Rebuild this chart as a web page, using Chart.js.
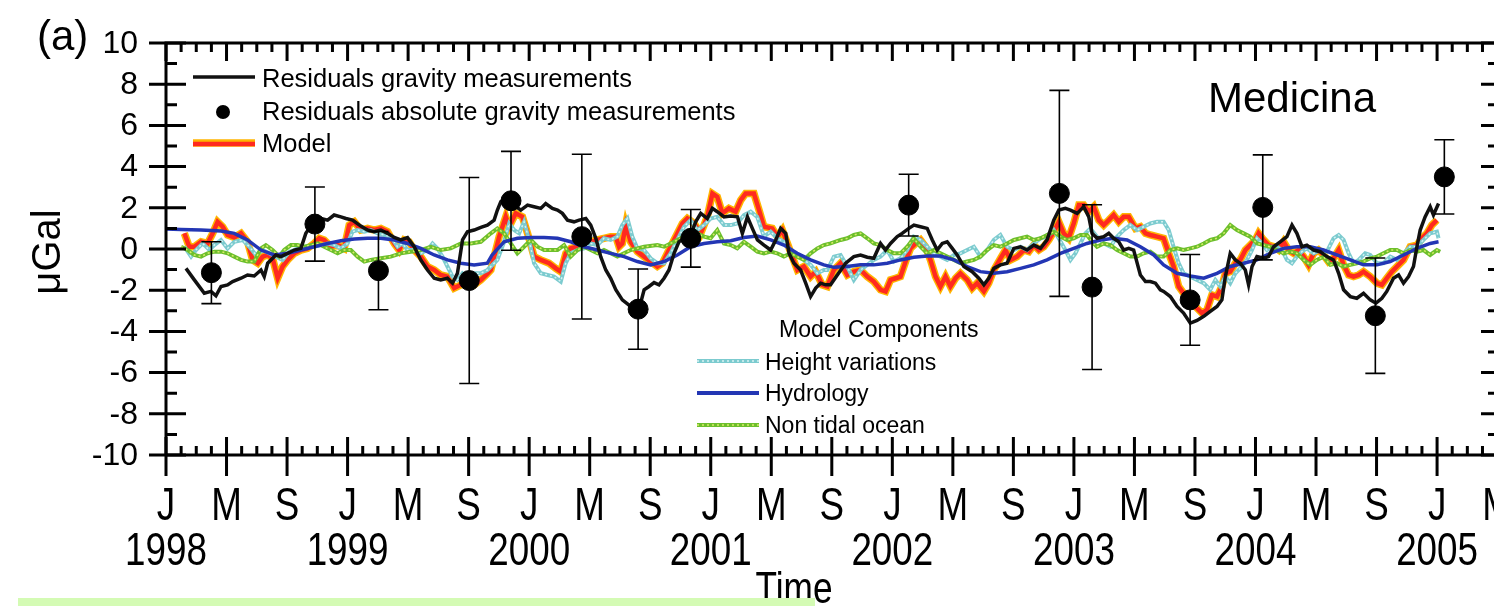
<!DOCTYPE html>
<html>
<head>
<meta charset="utf-8">
<script src="https://cdn.jsdelivr.net/npm/chart.js@4.4.1/dist/chart.umd.min.js"></script>
<style>
html, body { margin: 0; padding: 0; overflow: hidden; background: #fff; }
#wrap { position: relative; width: 1494px; height: 606px; overflow: hidden; }
#wrap canvas { position: absolute; left: 0; top: 0; }
#band { position: absolute; left: 18px; top: 598px; width: 797px; height: 8px; background: #d4fbb4; }
</style>
</head>
<body>
<div id="wrap">
  <canvas id="chart" width="1510" height="606"></canvas>
  <div id="band"></div>
</div>
<script>
// time in decimal years, values in microGal
const gravityResiduals = [
  [1998.110,-0.94],[1998.156,-1.50],[1998.211,-2.15],[1998.248,-2.06],[1998.275,-2.27],[1998.303,-1.82],[1998.339,-1.74],[1998.367,-1.58],[1998.413,-1.42],[1998.449,-1.26],[1998.486,-1.31],[1998.523,-1.02],[1998.541,-1.34],[1998.560,-0.69],[1998.605,-0.29],[1998.633,-0.37],[1998.670,-0.21],[1998.706,-0.05],[1998.743,0.03],[1998.770,0.76],[1998.789,1.00],[1998.820,1.24],[1998.853,1.48],[1998.890,1.40],[1998.926,1.65],[1998.963,1.56],[1998.991,1.48],[1999.027,1.40],[1999.073,1.11],[1999.110,0.92],[1999.147,0.84],[1999.183,0.92],[1999.220,0.76],[1999.257,0.56],[1999.293,0.44],[1999.330,0.55],[1999.367,0.11],[1999.403,-0.53],[1999.440,-1.02],[1999.477,-1.42],[1999.513,-1.50],[1999.550,-1.42],[1999.578,-1.66],[1999.605,-1.18],[1999.633,0.44],[1999.660,0.84],[1999.697,0.92],[1999.734,1.05],[1999.770,1.16],[1999.807,1.40],[1999.825,1.89],[1999.844,2.30],[1999.881,2.53],[1999.917,2.13],[1999.954,1.89],[1999.991,2.13],[2000.027,2.05],[2000.064,1.97],[2000.091,2.21],[2000.128,1.97],[2000.156,1.89],[2000.183,1.73],[2000.211,1.40],[2000.247,1.32],[2000.275,1.40],[2000.312,1.48],[2000.339,1.16],[2000.367,0.52],[2000.394,-0.37],[2000.422,-1.02],[2000.449,-1.42],[2000.477,-1.98],[2000.513,-2.47],[2000.559,-2.79],[2000.605,-2.92],[2000.633,-1.98],[2000.660,-1.82],[2000.688,-1.63],[2000.715,-1.74],[2000.743,-1.42],[2000.770,-1.02],[2000.798,-0.21],[2000.825,0.35],[2000.853,0.52],[2000.886,0.60],[2000.917,1.32],[2000.945,1.73],[2000.981,1.48],[2001.009,1.97],[2001.036,1.81],[2001.073,1.56],[2001.110,1.60],[2001.147,1.56],[2001.174,0.76],[2001.202,1.56],[2001.229,1.00],[2001.257,0.44],[2001.293,0.19],[2001.330,-0.05],[2001.358,0.44],[2001.385,1.00],[2001.413,0.76],[2001.431,-0.21],[2001.458,-0.69],[2001.495,-1.02],[2001.523,-1.66],[2001.550,-2.31],[2001.578,-1.90],[2001.605,-1.66],[2001.633,-1.74],[2001.660,-1.74],[2001.697,-1.26],[2001.743,-0.69],[2001.788,-0.37],[2001.825,-0.29],[2001.862,-0.40],[2001.898,-0.45],[2001.935,0.27],[2001.962,-0.05],[2001.990,0.27],[2002.027,0.60],[2002.054,0.76],[2002.091,1.00],[2002.119,1.16],[2002.155,1.08],[2002.192,1.00],[2002.220,0.44],[2002.247,-0.05],[2002.275,0.27],[2002.302,0.35],[2002.330,0.03],[2002.357,-0.29],[2002.394,-0.85],[2002.440,-1.10],[2002.476,-1.42],[2002.504,-1.74],[2002.531,-1.42],[2002.559,-0.94],[2002.596,-0.77],[2002.632,-0.69],[2002.669,0.03],[2002.706,0.11],[2002.742,-0.05],[2002.779,0.19],[2002.816,0.03],[2002.852,0.44],[2002.889,1.40],[2002.917,1.89],[2002.953,1.97],[2002.981,1.89],[2003.018,1.73],[2003.054,2.05],[2003.082,1.56],[2003.100,0.76],[2003.128,0.52],[2003.164,0.60],[2003.192,0.76],[2003.219,0.52],[2003.247,0.35],[2003.274,-0.05],[2003.302,0.03],[2003.329,-0.05],[2003.366,-1.26],[2003.394,-1.58],[2003.421,-1.58],[2003.449,-1.66],[2003.476,-1.98],[2003.494,-2.06],[2003.531,-2.31],[2003.568,-2.79],[2003.604,-3.11],[2003.641,-3.60],[2003.678,-3.47],[2003.715,-3.27],[2003.751,-3.03],[2003.788,-2.79],[2003.815,-2.47],[2003.834,-1.34],[2003.861,-0.21],[2003.889,-0.53],[2003.916,-0.69],[2003.944,-1.02],[2003.962,-1.74],[2003.981,-0.85],[2004.008,-0.37],[2004.045,-0.45],[2004.072,-0.37],[2004.100,0.11],[2004.136,0.35],[2004.173,0.60],[2004.201,1.16],[2004.228,0.76],[2004.256,0.11],[2004.283,0.19],[2004.320,-0.05],[2004.357,-0.13],[2004.393,-0.37],[2004.430,-0.53],[2004.458,-1.18],[2004.485,-1.98],[2004.522,-2.31],[2004.558,-2.39],[2004.595,-2.15],[2004.632,-2.47],[2004.663,-2.63],[2004.696,-2.39],[2004.723,-2.06],[2004.760,-1.42],[2004.788,-1.26],[2004.815,-1.66],[2004.843,-1.34],[2004.870,-0.85],[2004.889,0.11],[2004.907,0.92],[2004.934,1.56],[2004.962,2.05],[2004.980,1.65],[2005.008,2.21]
];

const model = [
  [1998.101,0.76],[1998.128,0.11],[1998.156,0.11],[1998.193,0.35],[1998.229,0.27],[1998.257,0.76],[1998.284,1.32],[1998.312,1.08],[1998.339,0.68],[1998.376,0.56],[1998.413,0.76],[1998.449,0.35],[1998.477,-0.53],[1998.505,-0.69],[1998.532,-0.37],[1998.560,-0.29],[1998.587,-0.45],[1998.615,-1.42],[1998.642,-0.85],[1998.670,-0.53],[1998.706,-0.21],[1998.743,-0.05],[1998.780,0.03],[1998.816,0.27],[1998.844,0.52],[1998.871,0.44],[1998.908,0.11],[1998.945,0.19],[1998.981,0.03],[1999.009,1.16],[1999.037,1.32],[1999.073,0.92],[1999.110,1.00],[1999.147,0.92],[1999.183,1.00],[1999.220,0.84],[1999.257,0.27],[1999.284,-0.05],[1999.312,0.44],[1999.339,0.35],[1999.367,-0.05],[1999.403,-0.37],[1999.440,-0.85],[1999.477,-1.02],[1999.513,-1.26],[1999.550,-1.34],[1999.587,-1.90],[1999.624,-1.74],[1999.660,-1.58],[1999.697,-1.74],[1999.734,-1.50],[1999.770,-1.20],[1999.789,-1.02],[1999.835,0.60],[1999.871,1.56],[1999.890,1.08],[1999.926,1.73],[1999.963,1.56],[1999.991,0.76],[2000.027,-0.37],[2000.064,-0.53],[2000.110,-0.69],[2000.147,-0.94],[2000.174,-1.10],[2000.202,-0.21],[2000.229,0.03],[2000.266,0.11],[2000.302,0.19],[2000.339,0.35],[2000.376,0.44],[2000.412,0.52],[2000.449,0.60],[2000.477,0.60],[2000.495,0.11],[2000.513,0.27],[2000.532,1.16],[2000.559,0.35],[2000.596,-0.13],[2000.633,-0.37],[2000.669,-0.61],[2000.706,-0.85],[2000.734,-0.69],[2000.770,-0.05],[2000.807,0.60],[2000.844,1.24],[2000.871,1.48],[2000.908,1.24],[2000.945,0.76],[2000.981,1.56],[2001.009,2.69],[2001.036,2.53],[2001.064,1.73],[2001.100,1.97],[2001.137,1.81],[2001.165,2.37],[2001.192,2.69],[2001.238,2.69],[2001.266,1.89],[2001.293,1.08],[2001.339,1.00],[2001.367,0.60],[2001.394,0.92],[2001.422,0.27],[2001.449,-0.37],[2001.477,-1.02],[2001.513,-0.85],[2001.550,-1.34],[2001.578,-1.10],[2001.614,-1.74],[2001.642,-1.82],[2001.678,-1.02],[2001.715,-0.69],[2001.752,-1.26],[2001.788,-1.10],[2001.825,-1.02],[2001.862,-1.34],[2001.898,-1.58],[2001.935,-1.98],[2001.963,-2.06],[2001.990,-1.50],[2002.018,-1.42],[2002.045,-1.34],[2002.073,-0.61],[2002.100,0.03],[2002.128,0.27],[2002.155,0.44],[2002.183,0.11],[2002.210,-0.53],[2002.238,-1.34],[2002.265,-1.82],[2002.293,-1.34],[2002.320,-1.82],[2002.348,-1.42],[2002.375,-1.18],[2002.412,-1.50],[2002.440,-1.90],[2002.467,-1.66],[2002.504,-2.06],[2002.531,-1.66],[2002.559,-1.02],[2002.596,-0.45],[2002.623,-0.05],[2002.651,-0.53],[2002.687,-0.37],[2002.724,-0.05],[2002.752,-0.13],[2002.779,0.19],[2002.807,-0.05],[2002.834,0.11],[2002.862,0.44],[2002.889,0.84],[2002.917,1.32],[2002.944,0.76],[2002.971,0.52],[2002.999,1.24],[2003.027,2.13],[2003.054,2.13],[2003.082,1.81],[2003.109,2.05],[2003.137,1.40],[2003.164,1.16],[2003.192,1.40],[2003.219,1.65],[2003.247,1.32],[2003.274,1.56],[2003.302,1.56],[2003.339,1.00],[2003.366,1.08],[2003.394,0.76],[2003.421,0.68],[2003.458,0.60],[2003.494,0.52],[2003.522,-0.21],[2003.549,-0.85],[2003.577,-1.82],[2003.604,-2.15],[2003.632,-2.31],[2003.669,-2.79],[2003.705,-3.11],[2003.733,-2.95],[2003.760,-2.23],[2003.788,-2.31],[2003.815,-1.82],[2003.834,-1.18],[2003.861,-1.10],[2003.889,-0.69],[2003.916,-0.53],[2003.944,-0.05],[2003.971,0.19],[2003.999,0.44],[2004.017,0.76],[2004.045,0.44],[2004.072,0.19],[2004.100,0.11],[2004.127,-0.05],[2004.155,0.35],[2004.182,-0.05],[2004.210,-0.21],[2004.237,-0.05],[2004.265,-0.37],[2004.292,-0.77],[2004.320,-0.21],[2004.347,-0.05],[2004.375,-0.29],[2004.402,-0.61],[2004.430,-0.45],[2004.458,-0.05],[2004.485,-0.77],[2004.513,-1.26],[2004.540,-1.34],[2004.568,-1.26],[2004.595,-1.10],[2004.632,-1.34],[2004.669,-1.66],[2004.696,-1.74],[2004.723,-1.42],[2004.751,-1.10],[2004.779,-0.85],[2004.815,-0.53],[2004.852,0.11],[2004.889,0.19],[2004.916,0.52],[2004.944,0.76],[2004.971,1.16],[2004.999,1.40]
];

const heightVariations = [
  [1998.101,0.11],[1998.138,-0.37],[1998.165,-0.05],[1998.202,0.27],[1998.239,-0.05],[1998.266,0.19],[1998.303,0.44],[1998.339,0.03],[1998.376,0.35],[1998.422,0.44],[1998.459,0.11],[1998.495,-0.29],[1998.532,-0.05],[1998.569,-0.21],[1998.605,-0.37],[1998.642,-0.53],[1998.679,-0.13],[1998.706,-0.05],[1998.743,0.11],[1998.816,0.11],[1998.853,0.19],[1998.890,0.27],[1998.926,0.19],[1998.963,0.03],[1999.000,0.27],[1999.027,0.84],[1999.055,0.92],[1999.092,0.84],[1999.128,0.92],[1999.165,0.76],[1999.202,0.68],[1999.238,0.60],[1999.275,0.11],[1999.302,0.27],[1999.330,-0.05],[1999.367,-0.05],[1999.403,-0.21],[1999.440,-0.05],[1999.468,0.27],[1999.495,0.03],[1999.523,-0.37],[1999.550,-0.85],[1999.578,-1.34],[1999.605,-1.50],[1999.633,-1.18],[1999.660,-1.34],[1999.697,-1.18],[1999.734,-1.18],[1999.770,-1.02],[1999.789,-0.85],[1999.825,-0.53],[1999.862,0.35],[1999.890,1.24],[1999.917,0.92],[1999.945,0.76],[1999.972,1.32],[2000.000,0.44],[2000.027,-0.69],[2000.064,-1.18],[2000.101,-1.26],[2000.137,-1.34],[2000.174,-1.58],[2000.201,-0.69],[2000.229,-0.21],[2000.266,-0.05],[2000.302,0.03],[2000.339,0.27],[2000.376,0.19],[2000.412,0.52],[2000.449,0.44],[2000.486,0.60],[2000.513,1.16],[2000.541,1.48],[2000.568,0.60],[2000.596,0.03],[2000.633,-0.05],[2000.669,-0.45],[2000.706,-0.69],[2000.743,-0.69],[2000.779,-0.21],[2000.816,0.44],[2000.853,1.08],[2000.889,1.40],[2000.926,0.92],[2000.963,1.16],[2000.999,1.48],[2001.036,1.56],[2001.073,1.16],[2001.110,1.16],[2001.146,1.24],[2001.183,1.65],[2001.220,1.81],[2001.256,1.56],[2001.293,0.60],[2001.330,0.84],[2001.366,0.52],[2001.403,0.35],[2001.440,-0.05],[2001.476,-0.29],[2001.513,-0.53],[2001.550,-0.77],[2001.587,-1.18],[2001.623,-1.02],[2001.642,-1.02],[2001.678,-0.37],[2001.715,-0.29],[2001.752,-0.85],[2001.788,-1.50],[2001.825,-1.02],[2001.862,-0.77],[2001.898,-0.53],[2001.935,-0.37],[2001.972,-0.05],[2002.008,-0.61],[2002.045,-0.45],[2002.082,-0.05],[2002.118,0.60],[2002.155,0.44],[2002.192,0.11],[2002.229,-0.21],[2002.265,-0.37],[2002.302,-0.53],[2002.339,-0.29],[2002.375,-0.21],[2002.412,-0.05],[2002.449,0.11],[2002.485,-0.37],[2002.522,-0.05],[2002.559,0.44],[2002.595,0.68],[2002.632,0.11],[2002.669,-0.05],[2002.706,0.11],[2002.742,-0.05],[2002.779,0.27],[2002.816,0.52],[2002.852,0.60],[2002.889,0.92],[2002.916,0.52],[2002.953,-0.05],[2002.981,-0.53],[2003.008,-0.21],[2003.036,0.27],[2003.063,0.76],[2003.091,1.00],[2003.127,0.60],[2003.164,0.27],[2003.201,0.11],[2003.238,0.60],[2003.274,0.92],[2003.311,1.16],[2003.348,0.92],[2003.384,1.08],[2003.421,1.24],[2003.458,1.32],[2003.494,1.32],[2003.522,0.92],[2003.549,0.11],[2003.577,-0.69],[2003.604,-1.18],[2003.641,-1.34],[2003.678,-1.50],[2003.715,-1.66],[2003.751,-1.98],[2003.779,-1.50],[2003.806,-1.82],[2003.834,-1.34],[2003.861,-1.66],[2003.889,-1.18],[2003.916,-0.94],[2003.953,-0.53],[2003.981,-0.05],[2004.008,0.52],[2004.036,0.27],[2004.063,-0.05],[2004.090,0.11],[2004.118,0.11],[2004.146,-0.05],[2004.173,-0.53],[2004.201,-0.69],[2004.228,-0.37],[2004.256,-0.13],[2004.283,0.03],[2004.320,-0.21],[2004.357,-0.05],[2004.393,-0.13],[2004.430,0.52],[2004.458,0.68],[2004.485,0.44],[2004.513,-0.21],[2004.540,-0.69],[2004.568,-0.53],[2004.604,-0.21],[2004.632,-0.29],[2004.669,-0.69],[2004.705,-0.69],[2004.742,-0.37],[2004.779,-0.53],[2004.815,-0.21],[2004.852,0.11],[2004.889,0.11],[2004.925,0.44],[2004.962,0.76],[2004.999,0.84],[2005.008,0.52]
];

const hydrology = [
  [1998.000,0.97],[1998.083,0.95],[1998.193,0.92],[1998.303,0.87],[1998.376,0.76],[1998.449,0.44],[1998.523,-0.05],[1998.596,-0.29],[1998.670,-0.21],[1998.743,-0.05],[1998.816,0.11],[1998.890,0.27],[1998.963,0.40],[1999.037,0.48],[1999.110,0.52],[1999.183,0.52],[1999.257,0.44],[1999.330,0.27],[1999.403,0.03],[1999.477,-0.29],[1999.550,-0.53],[1999.624,-0.69],[1999.697,-0.77],[1999.770,-0.69],[1999.795,-0.30],[1999.862,0.35],[1999.935,0.52],[2000.009,0.56],[2000.082,0.56],[2000.156,0.52],[2000.229,0.35],[2000.302,0.11],[2000.376,-0.05],[2000.449,-0.21],[2000.523,-0.37],[2000.596,-0.61],[2000.669,-0.77],[2000.743,-0.61],[2000.816,-0.29],[2000.889,0.11],[2000.963,0.27],[2001.036,0.35],[2001.110,0.40],[2001.183,0.56],[2001.256,0.63],[2001.330,0.44],[2001.403,0.19],[2001.476,-0.21],[2001.550,-0.53],[2001.623,-0.77],[2001.678,-0.89],[2001.752,-0.85],[2001.825,-0.77],[2001.898,-0.77],[2001.972,-0.69],[2002.045,-0.53],[2002.118,-0.40],[2002.192,-0.34],[2002.265,-0.34],[2002.339,-0.53],[2002.412,-0.85],[2002.485,-1.10],[2002.559,-1.18],[2002.632,-1.10],[2002.706,-0.94],[2002.779,-0.77],[2002.852,-0.53],[2002.926,-0.21],[2002.999,0.03],[2003.072,0.27],[2003.146,0.44],[2003.219,0.52],[2003.293,0.44],[2003.366,0.11],[2003.440,-0.29],[2003.494,-0.77],[2003.568,-1.18],[2003.641,-1.31],[2003.715,-1.42],[2003.788,-1.18],[2003.861,-0.85],[2003.935,-0.69],[2004.008,-0.53],[2004.081,-0.21],[2004.155,0.03],[2004.228,0.11],[2004.302,0.11],[2004.375,-0.05],[2004.448,-0.29],[2004.522,-0.53],[2004.595,-0.77],[2004.669,-0.77],[2004.742,-0.61],[2004.815,-0.29],[2004.889,0.03],[2004.962,0.27],[2005.008,0.35]
];

const nonTidalOcean = [
  [1998.083,0.11],[1998.119,-0.05],[1998.156,-0.29],[1998.193,-0.37],[1998.229,-0.21],[1998.266,-0.13],[1998.303,-0.13],[1998.339,-0.21],[1998.376,-0.37],[1998.413,-0.53],[1998.449,-0.61],[1998.486,-0.61],[1998.523,0.03],[1998.550,0.19],[1998.587,-0.05],[1998.624,-0.37],[1998.651,-0.05],[1998.688,0.19],[1998.724,0.19],[1998.761,0.11],[1998.798,0.19],[1998.835,0.27],[1998.871,0.11],[1998.908,-0.05],[1998.945,-0.21],[1998.981,-0.05],[1999.018,-0.05],[1999.055,-0.37],[1999.092,-0.61],[1999.128,-0.53],[1999.183,-0.45],[1999.238,-0.37],[1999.293,-0.21],[1999.348,-0.13],[1999.403,-0.05],[1999.458,0.11],[1999.513,-0.05],[1999.568,0.03],[1999.624,0.27],[1999.679,0.27],[1999.734,0.35],[1999.789,0.76],[1999.825,1.00],[1999.862,0.76],[1999.899,0.27],[1999.935,-0.21],[1999.972,0.11],[2000.009,0.44],[2000.046,0.11],[2000.082,-0.05],[2000.156,-0.05],[2000.192,0.19],[2000.229,-0.37],[2000.266,-0.05],[2000.302,0.11],[2000.339,-0.05],[2000.376,-0.21],[2000.412,-0.05],[2000.449,-0.21],[2000.486,-0.37],[2000.522,-0.21],[2000.559,-0.05],[2000.596,0.03],[2000.633,0.11],[2000.706,0.19],[2000.743,0.11],[2000.779,0.27],[2000.816,0.44],[2000.853,0.60],[2000.889,0.92],[2000.926,0.76],[2000.963,0.60],[2000.999,0.52],[2001.036,0.92],[2001.073,0.27],[2001.110,0.19],[2001.146,0.03],[2001.183,0.35],[2001.220,0.11],[2001.256,-0.13],[2001.293,-0.21],[2001.330,-0.13],[2001.366,-0.21],[2001.403,-0.37],[2001.440,-0.21],[2001.476,-0.37],[2001.513,-0.53],[2001.550,-0.21],[2001.587,0.03],[2001.623,0.19],[2001.660,0.27],[2001.715,0.44],[2001.752,0.52],[2001.788,0.68],[2001.825,0.76],[2001.862,0.52],[2001.898,0.27],[2001.935,0.19],[2001.972,-0.05],[2002.008,-0.21],[2002.045,-0.21],[2002.082,0.11],[2002.118,0.52],[2002.155,0.11],[2002.192,-0.21],[2002.229,-0.05],[2002.265,-0.21],[2002.302,-0.37],[2002.339,-0.53],[2002.375,-0.69],[2002.412,-0.61],[2002.449,-0.53],[2002.485,-0.37],[2002.522,-0.05],[2002.559,0.19],[2002.595,0.11],[2002.632,0.27],[2002.669,0.44],[2002.706,0.52],[2002.742,0.60],[2002.779,0.44],[2002.816,0.52],[2002.852,0.68],[2002.889,0.84],[2002.926,0.60],[2002.962,0.44],[2002.999,0.52],[2003.036,0.68],[2003.072,0.68],[2003.100,0.35],[2003.127,0.11],[2003.164,0.27],[2003.201,0.19],[2003.238,-0.05],[2003.274,-0.21],[2003.311,-0.37],[2003.348,-0.37],[2003.384,-0.21],[2003.421,-0.13],[2003.458,-0.37],[2003.494,-0.37],[2003.531,-0.05],[2003.568,0.03],[2003.604,-0.05],[2003.641,0.03],[2003.678,0.11],[2003.715,0.27],[2003.751,0.44],[2003.788,0.52],[2003.825,0.76],[2003.861,1.16],[2003.898,0.92],[2003.935,0.76],[2003.971,0.60],[2004.008,0.27],[2004.045,0.19],[2004.081,0.11],[2004.118,-0.05],[2004.155,-0.21],[2004.191,-0.13],[2004.228,-0.21],[2004.265,-0.53],[2004.302,-0.77],[2004.338,-0.53],[2004.375,-0.37],[2004.412,-0.77],[2004.448,-0.69],[2004.485,-0.85],[2004.522,-0.77],[2004.558,-0.69],[2004.595,-0.61],[2004.632,-0.45],[2004.669,-0.37],[2004.705,-0.21],[2004.742,-0.05],[2004.779,-0.05],[2004.815,-0.21],[2004.852,-0.05],[2004.889,-0.13],[2004.925,-0.05],[2004.962,-0.29],[2004.999,-0.05],[2005.017,-0.13]
];

// absolute gravity points: time, value, error
const absTimes  = [1998.25, 1998.82, 1999.17, 1999.67, 1999.90, 2000.29, 2000.60, 2000.89, 2002.09, 2002.92, 2003.10, 2003.64, 2004.04, 2004.66, 2005.04];
const absValues = [-1.15, 1.21, -1.05, -1.53, 2.34, 0.60, -2.92, 0.52, 2.13, 2.70, -1.85, -2.47, 2.02, -3.24, 3.50];
const absErrors = [1.5, 1.8, 1.9, 5.0, 2.4, 4.0, 1.95, 1.4, 1.5, 5.0, 4.0, 2.2, 2.55, 2.8, 1.8];

const monthLabels = ['J', 'M', 'S'];
const yearLabels = ['1998', '1999', '2000', '2001', '2002', '2003', '2004', '2005'];
const yTickLabels = ['-10', '-8', '-6', '-4', '-2', '0', '2', '4', '6', '8', '10'];

const X_MIN = 1998, X_MAX = 2005.33;
const SANS = '"Liberation Sans", Arial, sans-serif';

function pts(arr) {
    return arr.map(p => ({ x: p[0], y: p[1] }));
}

function line(label, arr, color, width, order, dash) {
    return {
        label: label,
        data: pts(arr),
        borderColor: color,
        borderWidth: width,
        borderDash: dash || [],
        pointRadius: 0,
        fill: false,
        tension: 0,
        order: order
    };
}

// condensed text (no narrow font installed, so squeeze a normal one)
function narrowText(ctx, text, x, y, size) {
    ctx.save();
    ctx.translate(x, y);
    ctx.scale(0.8, 1);
    ctx.font = size + 'px ' + SANS;
    ctx.textAlign = 'center';
    ctx.fillText(text, 0, 0);
    ctx.restore();
}

const frame = {
    id: 'frame',
    afterDatasetsDraw(chart) {
        const ctx = chart.ctx;
        const xs = chart.scales.x, ys = chart.scales.y;
        const a = chart.chartArea;
        ctx.save();
        ctx.strokeStyle = '#000';
        ctx.fillStyle = '#000';

        // error bars
        ctx.lineWidth = 1.6;
        for (let i = 0; i < absTimes.length; i++) {
            const px = xs.getPixelForValue(absTimes[i]);
            const top = ys.getPixelForValue(absValues[i] + absErrors[i]);
            const bot = ys.getPixelForValue(absValues[i] - absErrors[i]);
            ctx.beginPath();
            ctx.moveTo(px, top); ctx.lineTo(px, bot);
            ctx.moveTo(px - 10, top); ctx.lineTo(px + 10, top);
            ctx.moveTo(px - 10, bot); ctx.lineTo(px + 10, bot);
            ctx.stroke();
        }

        // box
        ctx.lineWidth = 3;
        ctx.beginPath();
        ctx.moveTo(a.left, a.bottom); ctx.lineTo(a.left, a.top); ctx.lineTo(a.right, a.top);
        ctx.lineTo(a.right, a.bottom); ctx.lineTo(a.left, a.bottom);
        ctx.stroke();

        // x ticks, monthly minor, 4-monthly major
        ctx.textBaseline = 'alphabetic';
        for (let m = 0; 1998 + m / 12 <= X_MAX + 0.01; m++) {
            const px = xs.getPixelForValue(1998 + m / 12);
            const major = m % 4 === 0;
            ctx.lineWidth = 3;
            ctx.beginPath();
            ctx.moveTo(px, a.top); ctx.lineTo(px, a.top + (major ? 18 : 9));
            if (major) {
                ctx.moveTo(px, a.bottom - 18); ctx.lineTo(px, a.bottom + 21);
            } else {
                ctx.moveTo(px, a.bottom); ctx.lineTo(px, a.bottom - 9);
            }
            ctx.stroke();
            if (major) narrowText(ctx, monthLabels[(m / 4) % 3], px, 520, 46);
            if (m % 12 === 0 && yearLabels[m / 12]) narrowText(ctx, yearLabels[m / 12], px, 565, 46);
        }

        // y ticks
        ctx.textAlign = 'right';
        ctx.textBaseline = 'middle';
        ctx.font = '32px ' + SANS;
        for (let v = -10; v <= 10; v++) {
            const py = ys.getPixelForValue(v);
            const major = v % 2 === 0;
            ctx.lineWidth = 3;
            ctx.beginPath();
            if (major) {
                ctx.moveTo(a.left - 17, py); ctx.lineTo(a.left + 20, py);
                ctx.moveTo(a.right - 16, py); ctx.lineTo(a.right, py);
            } else {
                ctx.moveTo(a.left, py); ctx.lineTo(a.left + 11, py);
                ctx.moveTo(a.right - 9, py); ctx.lineTo(a.right, py);
            }
            ctx.stroke();
            if (major) ctx.fillText(yTickLabels[(v + 10) / 2], 138, py + 1);
        }

        // titles
        ctx.textBaseline = 'alphabetic';
        ctx.textAlign = 'left';
        ctx.font = '42px ' + SANS;
        ctx.fillText('(a)', 37, 50);
        ctx.font = '42px ' + SANS;
        ctx.fillText('Medicina', 1208, 112);
        narrowText(ctx, 'Time', 794, 603, 44);
        ctx.save();
        ctx.translate(60, 252);
        ctx.rotate(-Math.PI / 2);
        ctx.textAlign = 'center';
        ctx.font = '40px ' + SANS;
        ctx.fillText('\u03bcGal', 0, 0);
        ctx.restore();

        // legend, top left
        ctx.textAlign = 'left';
        ctx.font = '25.5px ' + SANS;
        ctx.lineWidth = 3.5;
        ctx.strokeStyle = '#111';
        ctx.beginPath(); ctx.moveTo(193, 77); ctx.lineTo(255, 77); ctx.stroke();
        ctx.fillText('Residuals gravity measurements', 262, 87);
        ctx.beginPath(); ctx.arc(223, 112, 7, 0, Math.PI * 2); ctx.fill();
        ctx.fillText('Residuals absolute gravity measurements', 262, 120);
        ctx.lineWidth = 7.5; ctx.strokeStyle = '#ffb400';
        ctx.beginPath(); ctx.moveTo(193, 143); ctx.lineTo(255, 143); ctx.stroke();
        ctx.lineWidth = 4.5; ctx.strokeStyle = '#ff2a1f';
        ctx.beginPath(); ctx.moveTo(193, 144); ctx.lineTo(255, 144); ctx.stroke();
        ctx.fillText('Model', 262, 152);

        // legend, model components
        ctx.font = '23px ' + SANS;
        ctx.fillText('Model Components', 779, 337);
        ctx.lineWidth = 4;
        ctx.strokeStyle = '#7ccbcf';
        ctx.beginPath(); ctx.moveTo(697, 361); ctx.lineTo(759, 361); ctx.stroke();
        ctx.strokeStyle = '#2336b4';
        ctx.beginPath(); ctx.moveTo(697, 393); ctx.lineTo(759, 393); ctx.stroke();
        ctx.strokeStyle = '#6cbf2c';
        ctx.beginPath(); ctx.moveTo(697, 425); ctx.lineTo(759, 425); ctx.stroke();
        ctx.setLineDash([2, 3]);
        ctx.lineWidth = 1.5;
        ctx.strokeStyle = '#d6f2f2';
        ctx.beginPath(); ctx.moveTo(697, 361); ctx.lineTo(759, 361); ctx.stroke();
        ctx.strokeStyle = '#d9ec6a';
        ctx.beginPath(); ctx.moveTo(697, 425); ctx.lineTo(759, 425); ctx.stroke();
        ctx.setLineDash([]);
        ctx.fillText('Height variations', 765, 370);
        ctx.fillText('Hydrology', 765, 401);
        ctx.fillText('Non tidal ocean', 765, 433);

        ctx.restore();
    }
};

const canvas = document.getElementById('chart');
new Chart(canvas.getContext('2d'), {
    type: 'line',
    data: {
        datasets: [
            {
                label: 'Residuals absolute gravity measurements',
                data: absTimes.map((t, i) => ({ x: t, y: absValues[i] })),
                showLine: false,
                pointRadius: 10,
                pointBackgroundColor: '#000',
                pointBorderColor: '#000',
                order: 0
            },
            line('Residuals gravity measurements', gravityResiduals, '#111', 3.5, 1),
            line('Hydrology', hydrology, '#2336b4', 3.5, 2),
            line('Non tidal ocean (dots)', nonTidalOcean, '#d9ec6a', 1.5, 3, [2, 3]),
            line('Non tidal ocean', nonTidalOcean, '#6cbf2c', 4, 4),
            line('Height variations (dots)', heightVariations, '#d6f2f2', 1.5, 5, [2, 3]),
            line('Height variations', heightVariations, '#7ccbcf', 4, 6),
            line('Model', model, '#ff2a1f', 4.5, 7),
            line('Model edge', model, '#ffb400', 7.5, 8)
        ]
    },
    options: {
        responsive: false,
        animation: false,
        layout: { padding: { left: 166, top: 43, right: 13, bottom: 151 } },
        scales: {
            x: { type: 'linear', min: X_MIN, max: X_MAX, display: false },
            y: { type: 'linear', min: -10, max: 10, display: false }
        },
        plugins: {
            legend: { display: false },
            tooltip: { enabled: false }
        }
    },
    plugins: [frame]
});
</script>
</body>
</html>
